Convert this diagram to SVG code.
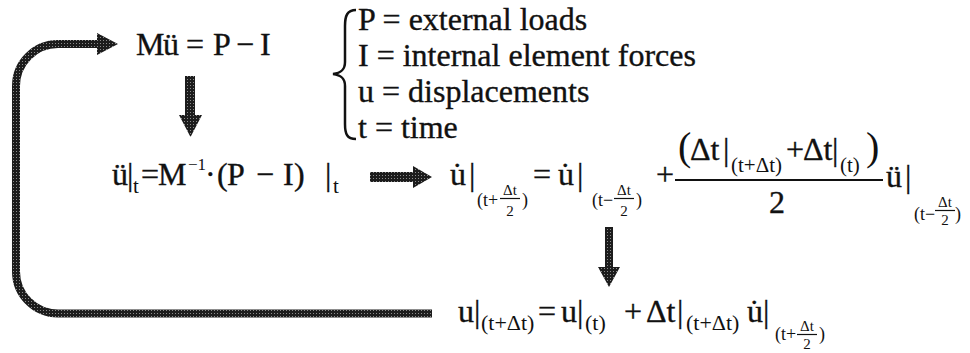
<svg xmlns="http://www.w3.org/2000/svg" width="970" height="353" viewBox="0 0 970 353">
<style>
text{font-family:"Liberation Serif","Times New Roman",serif;fill:#111}
.m{font-size:32px;stroke:#111;stroke-width:0.35}
.d{font-size:32px;stroke:#111;stroke-width:0.35}
.s{font-size:21px}
.s2{font-size:18px}
.sup{font-size:17px}
.f{font-size:15px;text-anchor:middle}
.big{font-size:40px}
.bar{stroke:#111;stroke-width:1.2}
.arrow{fill:url(#ht)}
.loop{fill:none;stroke:url(#ht);stroke-width:8}
</style>
<defs>
<pattern id="ht" width="3" height="3" patternUnits="userSpaceOnUse">
<rect width="3" height="3" fill="#1c1c1c"/>
<rect x="1" y="1" width="1" height="1" fill="#8a8a8a"/>
</pattern>
</defs>
<rect width="970" height="353" fill="#fff"/>

<g id="connectors">
<path class="loop" d="M432,313.5 H58 A42,42 0 0 1 16,271.5 V86 A42,42 0 0 1 58,44 H99"/>
<polygon class="arrow" points="97,33 118,44 97,55"/>
<polygon class="arrow" points="185,76 195,76 195,115 202,115 190.5,137 179,115 185,115"/>
<polygon class="arrow" points="370,172 413,172 413,166 432,177 413,188 413,182 370,182"/>
<polygon class="arrow" points="605,227 613,227 613,267 620,267 609,287 598,267 605,267"/>
</g>

<g id="eq-motion">
<text class="m" y="55"><tspan x="136">M</tspan><tspan x="163">ü</tspan><tspan x="186">=</tspan><tspan x="213">P</tspan><tspan x="236">−</tspan><tspan x="260">I</tspan></text>
</g>

<g id="definitions">
<path d="M356,10 C347,10 345,16 345,26 V62 C345,70 341,73 333,74 C341,75 345,78 345,86 V124 C345,134 347,139 356,139" fill="none" stroke="#111" stroke-width="2.5"/>
<text class="d" x="358" y="30">P = external loads</text>
<text class="d" x="358" y="66">I = internal element forces</text>
<text class="d" x="358" y="102">u = displacements</text>
<text class="d" x="358" y="138">t = time</text>
</g>

<g id="eq-accel">
<text class="m" y="185"><tspan x="112">ü</tspan><tspan x="127">|</tspan><tspan x="141">=</tspan><tspan x="158">M</tspan><tspan x="205">·</tspan><tspan x="217">(</tspan><tspan x="227">P</tspan><tspan x="256">−</tspan><tspan x="283">I</tspan><tspan x="294">)</tspan><tspan x="325">|</tspan></text>
<text class="s" x="133" y="193">t</text>
<text class="sup" x="188" y="170">−1</text>
<text class="s" x="333" y="193">t</text>
</g>

<g id="eq-velocity">
<text class="m" y="185"><tspan x="450">u&#x307;</tspan><tspan x="469">|</tspan><tspan x="533">=</tspan><tspan x="558">u&#x307;</tspan><tspan x="577">|</tspan><tspan x="656">+</tspan></text>
<text class="s2" x="477" y="206">(t+</text>
<text class="f" x="510" y="195">Δt</text>
<line class="bar" x1="500" y1="198.5" x2="520" y2="198.5"/>
<text class="f" x="510" y="216">2</text>
<text class="s2" x="522" y="206">)</text>
<text class="s2" x="592" y="206">(t−</text>
<text class="f" x="624" y="195">Δt</text>
<line class="bar" x1="614" y1="198.5" x2="634" y2="198.5"/>
<text class="f" x="624" y="216">2</text>
<text class="s2" x="636" y="206">)</text>
<text class="big" x="678" y="160">(</text>
<text class="m" y="160"><tspan x="690">Δt</tspan><tspan x="723">|</tspan><tspan x="786">+</tspan><tspan x="803">Δt</tspan><tspan x="832">|</tspan></text>
<text class="s" x="731" y="172">(t+Δt)</text>
<text class="s" x="840" y="172">(t)</text>
<text class="big" x="866" y="160">)</text>
<line x1="675" y1="180" x2="883" y2="180" stroke="#111" stroke-width="2"/>
<text class="m" x="777" y="213" text-anchor="middle">2</text>
<text class="m" y="187"><tspan x="886">ü</tspan><tspan x="905">|</tspan></text>
<text class="s2" x="914" y="220">(t−</text>
<text class="f" x="945" y="207">Δt</text>
<line class="bar" x1="935" y1="210.5" x2="955" y2="210.5"/>
<text class="f" x="945" y="225">2</text>
<text class="s2" x="955" y="220">)</text>
</g>

<g id="eq-displacement">
<text class="m" y="322"><tspan x="458">u</tspan><tspan x="474">|</tspan><tspan x="538">=</tspan><tspan x="561">u</tspan><tspan x="577">|</tspan><tspan x="624">+</tspan><tspan x="646">Δt</tspan><tspan x="677">|</tspan><tspan x="747">u&#x307;</tspan><tspan x="763">|</tspan></text>
<text class="s" x="481" y="330" style="font-size:22px">(t+Δt)</text>
<text class="s" x="585" y="330" style="font-size:22px">(t)</text>
<text class="s" x="686" y="330" style="font-size:22px">(t+Δt)</text>
<text class="s2" x="775" y="340">(t+</text>
<text class="f" x="807" y="331">Δt</text>
<line class="bar" x1="797" y1="334.5" x2="817" y2="334.5"/>
<text class="f" x="807" y="349">2</text>
<text class="s2" x="819" y="340">)</text>
</g>
</svg>
